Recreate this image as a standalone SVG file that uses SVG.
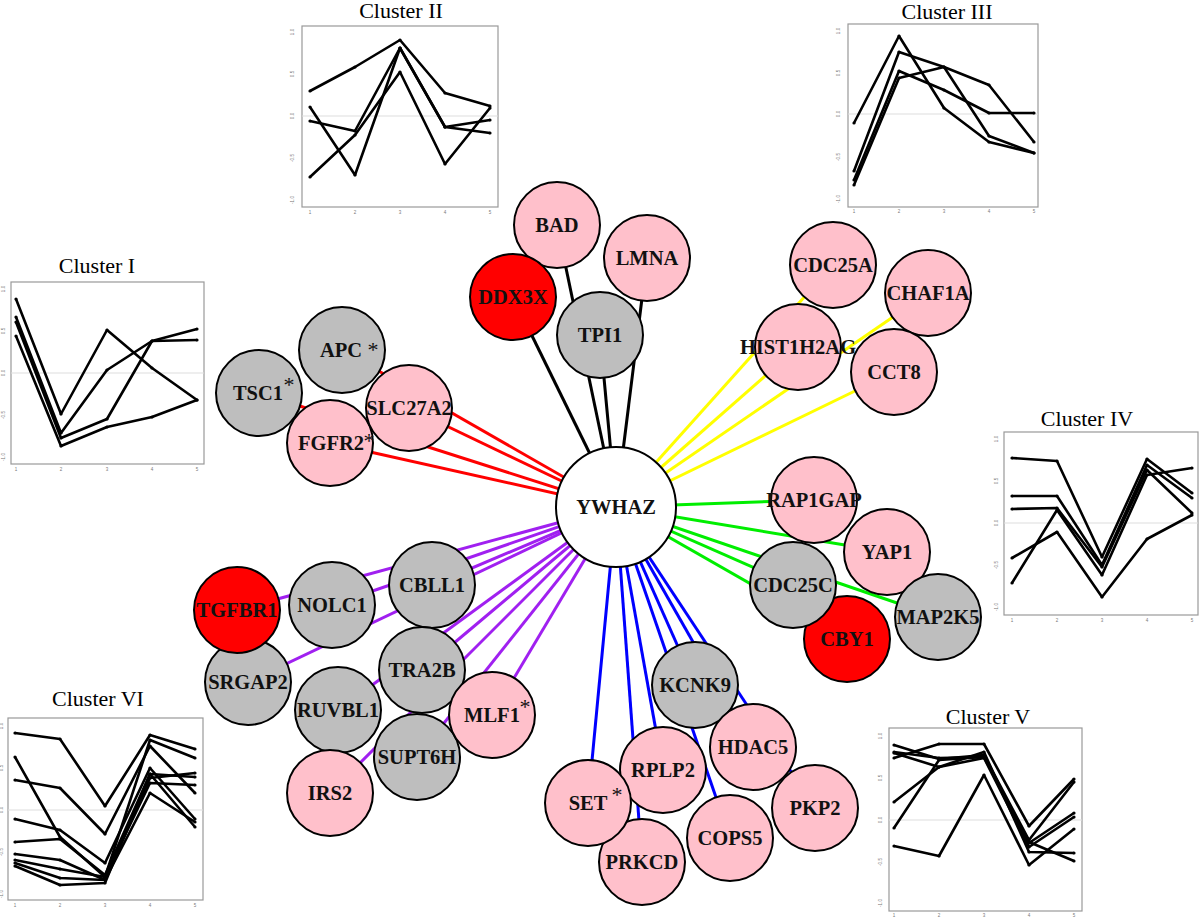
<svg xmlns="http://www.w3.org/2000/svg" width="1200" height="919" viewBox="0 0 1200 919">
<defs>
<marker id="dot" markerWidth="4" markerHeight="4" refX="2" refY="2" markerUnits="userSpaceOnUse"><circle cx="2" cy="2" r="1.6" fill="#000"/></marker>
<style>
.box{fill:#fff;stroke:#999;stroke-width:1.2}
.zero{stroke:#ddd;stroke-width:1}
.pl{fill:none;stroke:#000;stroke-width:2.6;stroke-linejoin:round;marker-start:url(#dot);marker-mid:url(#dot);marker-end:url(#dot)}
.title{font-family:"Liberation Serif","Times New Roman",serif;font-size:22px;text-anchor:middle;fill:#000}
.tk{font-family:"Liberation Sans",Arial,sans-serif;font-size:4.5px;fill:#777;text-anchor:middle}
.tm{stroke:#999;stroke-width:0.8}
.e{stroke-width:3;fill:none}
.bk{stroke:#000}.rd{stroke:#ff0000}.yl{stroke:#ffff00}.gr{stroke:#00ee00}.pu{stroke:#a020f0}.bl{stroke:#0000ff}
.n{stroke:#000;stroke-width:2}
.pink{fill:#ffc0cb}.gray{fill:#bebebe}.red{fill:#ff0000}.white{fill:#fff}
.lb{font-family:"Liberation Serif","Times New Roman",serif;font-weight:bold;font-size:20.5px;text-anchor:middle;fill:#111}
.ast{font-family:"Liberation Serif","Times New Roman",serif;font-size:22px;text-anchor:middle;fill:#111}
</style>
</defs>
<rect width="1200" height="919" fill="#fff"/>

<g id="plots">
<g id="cluster1">
<text class="title" x="97" y="273">Cluster I</text>
<rect class="box" x="11" y="282" width="193" height="182"/>
<line class="zero" x1="11" y1="373" x2="204" y2="373"/>
<polyline class="pl" points="16,299 61,414 107,330 152,368 197,400"/>
<polyline class="pl" points="16,317 61,433 107,370 152,341 197,329"/>
<polyline class="pl" points="16,322 61,438 107,419 152,341 197,340"/>
<polyline class="pl" points="16,336 61,446 107,427 152,417 197,400"/>
<g class="tk"><text x="16" y="471">1</text><text x="61" y="471">2</text><text x="107" y="471">3</text><text x="152" y="471">4</text><text x="197" y="471">5</text>
<text transform="translate(5,289) rotate(-90)">1.0</text><text transform="translate(5,331) rotate(-90)">0.5</text><text transform="translate(5,373) rotate(-90)">0.0</text><text transform="translate(5,415) rotate(-90)">-0.5</text><text transform="translate(5,457) rotate(-90)">-1.0</text></g>
</g>
<g id="cluster2">
<text class="title" x="401" y="18">Cluster II</text>
<rect class="box" x="302" y="26" width="196" height="181"/>
<line class="zero" x1="302" y1="116" x2="498" y2="116"/>
<polyline class="pl" points="310,91 355,67 400,40 445,93 490,106"/>
<polyline class="pl" points="310,107 355,175 400,48 445,127 490,120"/>
<polyline class="pl" points="310,121 355,131 400,48 445,127 490,133"/>
<polyline class="pl" points="310,177 355,135 400,72 445,164 490,108"/>
<g class="tk"><text x="310" y="214">1</text><text x="355" y="214">2</text><text x="400" y="214">3</text><text x="445" y="214">4</text><text x="490" y="214">5</text>
<text transform="translate(294,32) rotate(-90)">1.0</text><text transform="translate(294,74) rotate(-90)">0.5</text><text transform="translate(294,116) rotate(-90)">0.0</text><text transform="translate(294,158) rotate(-90)">-0.5</text><text transform="translate(294,200) rotate(-90)">-1.0</text></g>
</g>
<g id="cluster3">
<text class="title" x="947" y="19">Cluster III</text>
<rect class="box" x="848" y="24" width="190" height="183"/>
<line class="zero" x1="848" y1="114" x2="1038" y2="114"/>
<polyline class="pl" points="854,123 899,36 944,108 989,142 1034,153"/>
<polyline class="pl" points="854,171 899,52 944,67 989,85 1034,142"/>
<polyline class="pl" points="854,180 899,71 944,90 989,113 1034,113"/>
<polyline class="pl" points="854,185 899,78 944,67 989,136 1034,153"/>
<g class="tk"><text x="854" y="213">1</text><text x="899" y="213">2</text><text x="944" y="213">3</text><text x="989" y="213">4</text><text x="1034" y="213">5</text>
<text transform="translate(840,31) rotate(-90)">1.0</text><text transform="translate(840,73) rotate(-90)">0.5</text><text transform="translate(840,114) rotate(-90)">0.0</text><text transform="translate(840,157) rotate(-90)">-0.5</text><text transform="translate(840,199) rotate(-90)">-1.0</text></g>
</g>
<g id="cluster4">
<text class="title" x="1087" y="426">Cluster IV</text>
<rect class="box" x="1004" y="432" width="194" height="183"/>
<line class="zero" x1="1004" y1="523" x2="1198" y2="523"/>
<polyline class="pl" points="1012,458 1057,461 1102,557 1147,459 1192,493"/>
<polyline class="pl" points="1012,496 1057,496 1102,565 1147,465 1192,498"/>
<polyline class="pl" points="1012,509 1057,508 1102,567 1147,470 1192,513"/>
<polyline class="pl" points="1012,583 1057,510 1102,575 1147,475 1192,468"/>
<polyline class="pl" points="1012,558 1057,532 1102,597 1147,539 1192,515"/>
<g class="tk"><text x="1012" y="622">1</text><text x="1057" y="622">2</text><text x="1102" y="622">3</text><text x="1147" y="622">4</text><text x="1192" y="622">5</text>
<text transform="translate(998,439) rotate(-90)">1.0</text><text transform="translate(998,481) rotate(-90)">0.5</text><text transform="translate(998,523) rotate(-90)">0.0</text><text transform="translate(998,565) rotate(-90)">-0.5</text><text transform="translate(998,607) rotate(-90)">-1.0</text></g>
</g>
<g id="cluster5">
<text class="title" x="988" y="724">Cluster V</text>
<rect class="box" x="889" y="728" width="193" height="183"/>
<line class="zero" x1="889" y1="820" x2="1082" y2="820"/>
<polyline class="pl" points="894,758 939,744 984,744 1029,826 1074,779"/>
<polyline class="pl" points="894,745 939,759 984,755 1029,840 1074,782"/>
<polyline class="pl" points="894,752 939,758 984,757 1029,843 1074,813"/>
<polyline class="pl" points="894,753 939,767 984,758 1029,847 1074,817"/>
<polyline class="pl" points="894,802 939,767 984,752 1029,852 1074,853"/>
<polyline class="pl" points="894,828 939,760 984,757 1029,842 1074,861"/>
<polyline class="pl" points="894,846 939,856 984,775 1029,865 1074,829"/>
<g class="tk"><text x="894" y="917">1</text><text x="939" y="917">2</text><text x="984" y="917">3</text><text x="1029" y="917">4</text><text x="1074" y="917">5</text>
<text transform="translate(882,736) rotate(-90)">1.0</text><text transform="translate(882,778) rotate(-90)">0.5</text><text transform="translate(882,820) rotate(-90)">0.0</text><text transform="translate(882,862) rotate(-90)">-0.5</text><text transform="translate(882,903) rotate(-90)">-1.0</text></g>
</g>
<g id="cluster6">
<text class="title" x="98" y="706">Cluster VI</text>
<rect class="box" x="8" y="718" width="195" height="182"/>
<line class="zero" x1="8" y1="810" x2="203" y2="810"/>
<polyline class="pl" points="15,733 60,739 105,806 150,735 195,749"/>
<polyline class="pl" points="15,757 60,837 105,877 150,740 195,758"/>
<polyline class="pl" points="15,780 60,788 105,834 150,746 195,793"/>
<polyline class="pl" points="15,819 60,830 105,863 150,768 195,819"/>
<polyline class="pl" points="15,842 60,839 105,875 150,774 195,777"/>
<polyline class="pl" points="15,854 60,860 105,880 150,778 195,773"/>
<polyline class="pl" points="15,860 60,869 105,877 150,783 195,785"/>
<polyline class="pl" points="15,863 60,878 105,880 150,793 195,822"/>
<polyline class="pl" points="15,866 60,885 105,883 150,774 195,827"/>
<g class="tk"><text x="15" y="907">1</text><text x="60" y="907">2</text><text x="105" y="907">3</text><text x="150" y="907">4</text><text x="195" y="907">5</text>
<text transform="translate(3,726) rotate(-90)">1.0</text><text transform="translate(3,768) rotate(-90)">0.5</text><text transform="translate(3,810) rotate(-90)">0.0</text><text transform="translate(3,852) rotate(-90)">-0.5</text><text transform="translate(3,894) rotate(-90)">-1.0</text></g>
</g>
</g>

<g id="connectors" class="e">
<line class="bk" x1="616" y1="507" x2="557" y2="225"/>
<line class="bk" x1="616" y1="507" x2="513" y2="297"/>
<line class="bk" x1="616" y1="507" x2="647" y2="258"/>
<line class="bk" x1="616" y1="507" x2="600" y2="335"/>
<line class="yl" x1="616" y1="507" x2="833" y2="265"/>
<line class="yl" x1="616" y1="507" x2="928" y2="293"/>
<line class="yl" x1="616" y1="507" x2="894" y2="372"/>
<line class="yl" x1="616" y1="507" x2="798" y2="347"/>
<line class="rd" x1="616" y1="507" x2="342" y2="350"/>
<line class="rd" x1="616" y1="507" x2="259" y2="393"/>
<line class="rd" x1="616" y1="507" x2="330" y2="443"/>
<line class="rd" x1="616" y1="507" x2="409" y2="408"/>
<line class="gr" x1="616" y1="507" x2="814" y2="500"/>
<line class="gr" x1="616" y1="507" x2="887" y2="552"/>
<line class="gr" x1="616" y1="507" x2="938" y2="617"/>
<line class="gr" x1="616" y1="507" x2="847" y2="639"/>
<line class="gr" x1="616" y1="507" x2="793" y2="585"/>
<line class="pu" x1="616" y1="507" x2="248" y2="682"/>
<line class="pu" x1="616" y1="507" x2="237" y2="610"/>
<line class="pu" x1="616" y1="507" x2="332" y2="605"/>
<line class="pu" x1="616" y1="507" x2="432" y2="585"/>
<line class="pu" x1="616" y1="507" x2="422" y2="670"/>
<line class="pu" x1="616" y1="507" x2="338" y2="710"/>
<line class="pu" x1="616" y1="507" x2="417" y2="757"/>
<line class="pu" x1="616" y1="507" x2="492" y2="715"/>
<line class="pu" x1="616" y1="507" x2="330" y2="793"/>
<line class="bl" x1="616" y1="507" x2="695" y2="685"/>
<line class="bl" x1="616" y1="507" x2="753" y2="747"/>
<line class="bl" x1="616" y1="507" x2="815" y2="808"/>
<line class="bl" x1="616" y1="507" x2="663" y2="770"/>
<line class="bl" x1="616" y1="507" x2="730" y2="838"/>
<line class="bl" x1="616" y1="507" x2="642" y2="862"/>
<line class="bl" x1="616" y1="507" x2="588" y2="803"/>
</g>

<g id="nodes">
<g id="BAD"><circle class="n pink" cx="557" cy="225" r="43"/><text class="lb" x="557" y="232">BAD</text></g>
<g id="DDX3X"><circle class="n red" cx="513" cy="297" r="43"/><text class="lb" x="513" y="304">DDX3X</text></g>
<g id="LMNA"><circle class="n pink" cx="647" cy="258" r="43"/><text class="lb" x="647" y="265">LMNA</text></g>
<g id="TPI1"><circle class="n gray" cx="600" cy="335" r="43"/><text class="lb" x="600" y="342">TPI1</text></g>
<g id="CDC25A"><circle class="n pink" cx="833" cy="265" r="43"/><text class="lb" x="833" y="272">CDC25A</text></g>
<g id="CHAF1A"><circle class="n pink" cx="928" cy="293" r="43"/><text class="lb" x="928" y="300">CHAF1A</text></g>
<g id="CCT8"><circle class="n pink" cx="894" cy="372" r="43"/><text class="lb" x="894" y="379">CCT8</text></g>
<g id="HIST1H2AG"><circle class="n pink" cx="798" cy="347" r="43"/><text class="lb" x="798" y="354">HIST1H2AG</text></g>
<g id="APC"><circle class="n gray" cx="342" cy="350" r="43"/><text class="lb" x="341" y="357">APC</text><text class="ast" x="373" y="357">*</text></g>
<g id="TSC1"><circle class="n gray" cx="259" cy="393" r="43"/><text class="lb" x="258" y="400">TSC1</text><text class="ast" x="289" y="392">*</text></g>
<g id="FGFR2"><circle class="n pink" cx="330" cy="443" r="43"/><text class="lb" x="331" y="450">FGFR2</text><text class="ast" x="369" y="448">*</text></g>
<g id="SLC27A2"><circle class="n pink" cx="409" cy="408" r="43"/><text class="lb" x="409" y="415">SLC27A2</text></g>
<g id="RAP1GAP"><circle class="n pink" cx="814" cy="500" r="43"/><text class="lb" x="814" y="507">RAP1GAP</text></g>
<g id="YAP1"><circle class="n pink" cx="887" cy="552" r="43"/><text class="lb" x="887" y="559">YAP1</text></g>
<g id="MAP2K5"><circle class="n gray" cx="938" cy="617" r="43"/><text class="lb" x="938" y="624">MAP2K5</text></g>
<g id="CBY1"><circle class="n red" cx="847" cy="639" r="43"/><text class="lb" x="847" y="646">CBY1</text></g>
<g id="CDC25C"><circle class="n gray" cx="793" cy="585" r="43"/><text class="lb" x="793" y="592">CDC25C</text></g>
<g id="SRGAP2"><circle class="n gray" cx="248" cy="682" r="43"/><text class="lb" x="248" y="689">SRGAP2</text></g>
<g id="TGFBR1"><circle class="n red" cx="237" cy="610" r="43"/><text class="lb" x="237" y="617">TGFBR1</text></g>
<g id="NOLC1"><circle class="n gray" cx="332" cy="605" r="43"/><text class="lb" x="332" y="612">NOLC1</text></g>
<g id="CBLL1"><circle class="n gray" cx="432" cy="585" r="43"/><text class="lb" x="432" y="592">CBLL1</text></g>
<g id="TRA2B"><circle class="n gray" cx="422" cy="670" r="43"/><text class="lb" x="422" y="677">TRA2B</text></g>
<g id="RUVBL1"><circle class="n gray" cx="338" cy="710" r="43"/><text class="lb" x="338" y="717">RUVBL1</text></g>
<g id="SUPT6H"><circle class="n gray" cx="417" cy="757" r="43"/><text class="lb" x="417" y="764">SUPT6H</text></g>
<g id="MLF1"><circle class="n pink" cx="492" cy="715" r="43"/><text class="lb" x="492" y="722">MLF1</text><text class="ast" x="525" y="714">*</text></g>
<g id="IRS2"><circle class="n pink" cx="330" cy="793" r="43"/><text class="lb" x="330" y="800">IRS2</text></g>
<g id="KCNK9"><circle class="n gray" cx="695" cy="685" r="43"/><text class="lb" x="695" y="692">KCNK9</text></g>
<g id="HDAC5"><circle class="n pink" cx="753" cy="747" r="43"/><text class="lb" x="753" y="754">HDAC5</text></g>
<g id="PKP2"><circle class="n pink" cx="815" cy="808" r="43"/><text class="lb" x="815" y="815">PKP2</text></g>
<g id="RPLP2"><circle class="n pink" cx="663" cy="770" r="43"/><text class="lb" x="663" y="777">RPLP2</text></g>
<g id="COPS5"><circle class="n pink" cx="730" cy="838" r="43"/><text class="lb" x="730" y="845">COPS5</text></g>
<g id="PRKCD"><circle class="n pink" cx="642" cy="862" r="43"/><text class="lb" x="642" y="869">PRKCD</text></g>
<g id="SET"><circle class="n pink" cx="588" cy="803" r="43"/><text class="lb" x="588" y="810">SET</text><text class="ast" x="617" y="802">*</text></g>
<g id="YWHAZ"><circle class="n white" cx="616" cy="507" r="60"/><text class="lb" x="616" y="514">YWHAZ</text></g>
</g>
</svg>
